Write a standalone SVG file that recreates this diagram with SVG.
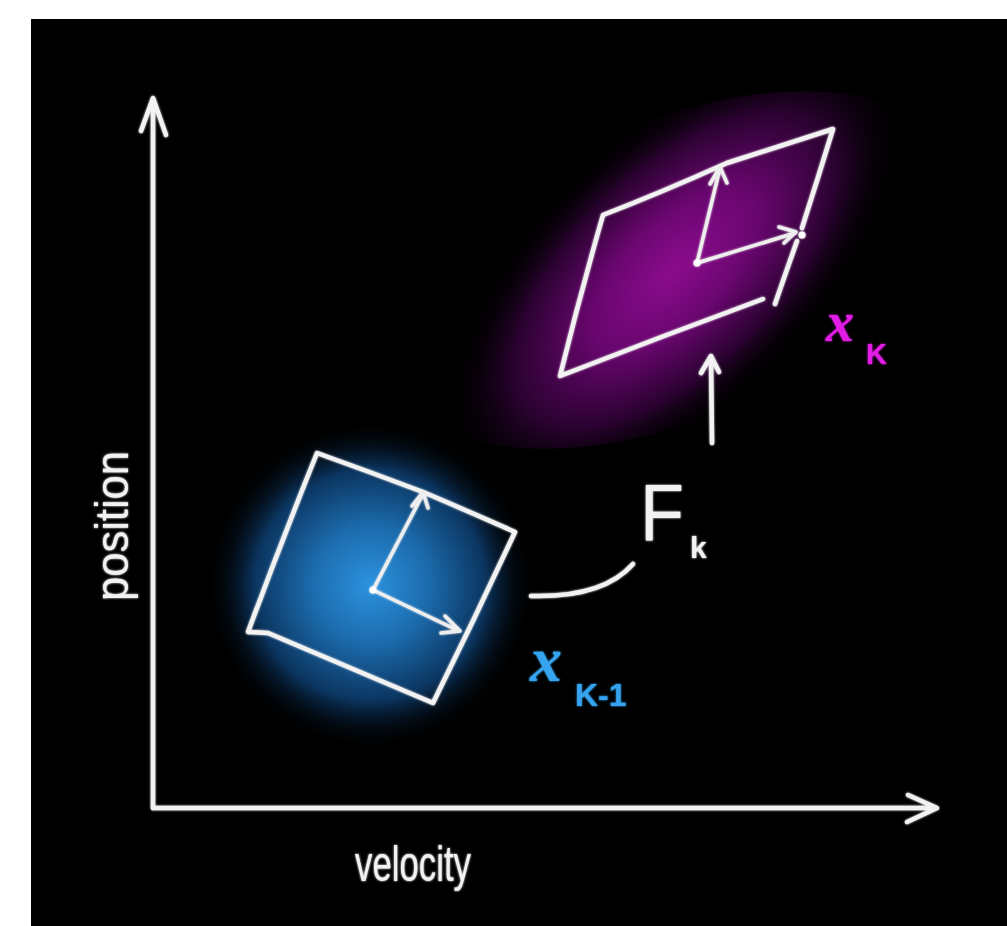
<svg xmlns="http://www.w3.org/2000/svg" width="1007" height="926" viewBox="0 0 1007 926">
<defs>
<radialGradient id="gBlue" cx="370" cy="585" r="165" gradientUnits="userSpaceOnUse">
<stop offset="0" stop-color="#2c92de"/>
<stop offset="0.35" stop-color="#1c6cae"/>
<stop offset="0.7" stop-color="#0b3560"/>
<stop offset="1" stop-color="#000" stop-opacity="0"/>
</radialGradient>
<radialGradient id="gMag" cx="0" cy="0" r="1" gradientUnits="userSpaceOnUse" gradientTransform="translate(675 270) rotate(-22) scale(290 140)">
<stop offset="0" stop-color="#8c0c8e"/>
<stop offset="0.35" stop-color="#6a0670"/>
<stop offset="0.7" stop-color="#2a0230"/>
<stop offset="1" stop-color="#000" stop-opacity="0"/>
</radialGradient>
<filter id="glow" x="-10%" y="-10%" width="120%" height="120%">
<feGaussianBlur stdDeviation="1.2" result="b"/>
<feMerge><feMergeNode in="b"/><feMergeNode in="SourceGraphic"/></feMerge>
</filter>
</defs>
<style>
.ln{fill:none;stroke:#f2f2f2;stroke-width:4.5;stroke-linecap:round;stroke-linejoin:round}
.thin{fill:none;stroke:#eeeeee;stroke-width:3.5;stroke-linecap:round;stroke-linejoin:round}
.dot{fill:#ffffff}
.hand{font-family:"Liberation Sans Narrow","Liberation Sans",sans-serif;fill:#f2f2f2}
.xv{font-family:"Liberation Serif",serif;font-style:italic;font-weight:bold}
.blue{fill:#35a3ef}
.mag{fill:#e21ce6}
</style>
<rect x="31" y="19" width="976" height="907" fill="#000"/>
<ellipse cx="675" cy="270" rx="300" ry="150" transform="rotate(-22 675 270)" fill="url(#gMag)"/>
<circle cx="370" cy="585" r="170" fill="url(#gBlue)"/>

<g id="connectors" filter="url(#glow)">
<path class="ln" d="M153,808 L153,100"/>
<path class="ln" d="M141,131 L153,98 L166,135"/>
<path class="ln" d="M153,808 L935,808"/>
<path class="ln" d="M908,795 L937,808 L907,822"/>
<path class="ln" d="M712,443 L711,358"/>
<path class="ln" d="M701,373 L711,356 L719,372"/>
<path class="ln" d="M531,596 C570,597 610,590 633,564"/>
</g>

<g id="node-prev" filter="url(#glow)">
<path class="ln" d="M317,453 Q370,472 423,492 Q470,512 515,532 Q475,618 433,703 Q370,676 268,633 L248,632 Q282,540 317,453 Z"/>
<path class="thin" d="M373,590 L423,494"/>
<path class="thin" d="M412,506 L423,492 L428,508"/>
<path class="thin" d="M373,590 L459,631"/>
<path class="thin" d="M445,616 L460,631 L441,633"/>
<circle class="dot" cx="373" cy="590" r="3.5"/>
<text class="xv blue" x="530" y="681" font-size="64">x</text>
<text class="hand blue" x="575" y="706" font-size="32" font-weight="bold">K-1</text>
</g>

<g id="node-next" filter="url(#glow)">
<path class="ln" d="M763,299 Q660,337 560,376 Q580,295 603,215 Q660,193 727,163 Q780,146 833,129 Q818,178 802,228"/>
<path class="ln" d="M797,241 Q786,272 775,304"/>
<path class="thin" d="M697,263 L720,168"/>
<path class="thin" d="M710,184 L720,167 L727,183"/>
<path class="thin" d="M697,263 L795,233"/>
<path class="thin" d="M779,227 L796,232 L784,243"/>
<circle class="dot" cx="697" cy="263" r="3.5"/>
<circle class="dot" cx="802" cy="235" r="3.5"/>
<text class="xv mag" x="826" y="341" font-size="56">x</text>
<text class="hand mag" x="866" y="364" font-size="29" font-weight="bold">K</text>
</g>

<g id="label-F" filter="url(#glow)">
<text class="hand" x="640" y="540" font-size="80" textLength="44" lengthAdjust="spacingAndGlyphs">F</text>
<text class="hand" x="690" y="558" font-size="30" font-weight="bold">k</text>
</g>

<g id="axis-labels" filter="url(#glow)">
<text class="hand" x="0" y="0" font-size="46" textLength="150" lengthAdjust="spacingAndGlyphs" transform="translate(128 601) rotate(-90)">position</text>
<text class="hand" x="355" y="881" font-size="50" textLength="116" lengthAdjust="spacingAndGlyphs">velocity</text>
</g>
</svg>
